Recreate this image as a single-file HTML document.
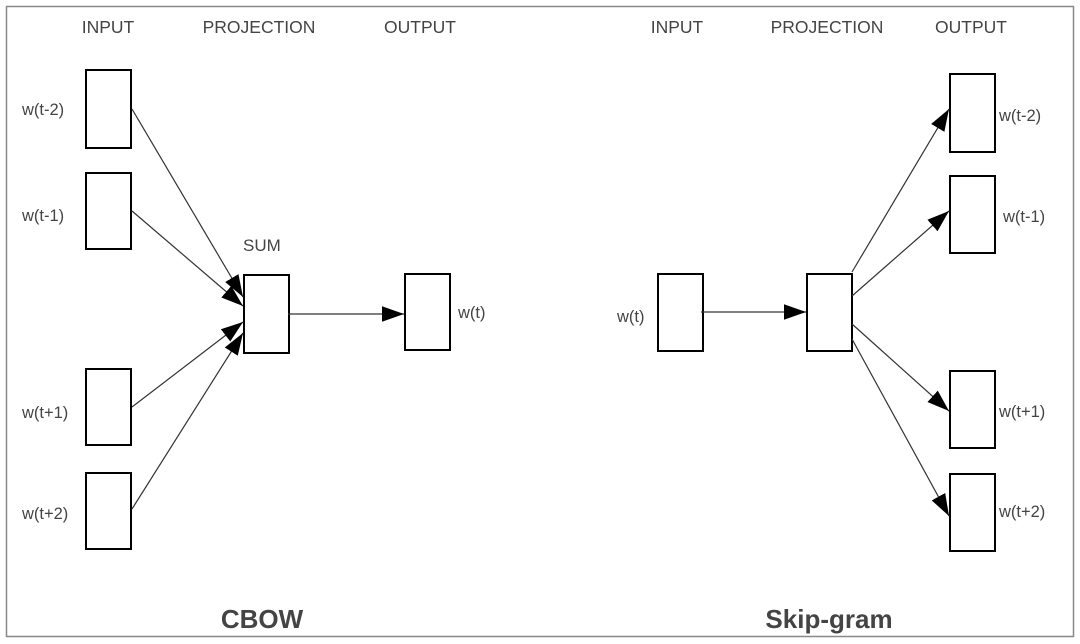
<!DOCTYPE html>
<html><head><meta charset="utf-8"><style>
html,body{margin:0;padding:0;background:#fff;}
svg{display:block;}
text{font-family:"Liberation Sans",Arial,sans-serif;fill:#444;}
</style></head><body>
<svg width="1080" height="644" viewBox="0 0 1080 644" xmlns="http://www.w3.org/2000/svg">
<defs>
<marker id="a" viewBox="0 0 10 10" refX="10" refY="5" markerWidth="22" markerHeight="22" markerUnits="userSpaceOnUse" orient="auto">
<path d="M0,1.5 L10,5 L0,8.5 z" fill="#000"/>
</marker>
</defs>
<rect x="6.5" y="6.5" width="1067" height="630" fill="#fff" stroke="#888" stroke-width="1.5"/>
<g font-size="17.5" text-anchor="middle">
<text x="108" y="33">INPUT</text>
<text x="259" y="33">PROJECTION</text>
<text x="420" y="33">OUTPUT</text>
<text x="677" y="33">INPUT</text>
<text x="827" y="33">PROJECTION</text>
<text x="971" y="33">OUTPUT</text>
</g>
<g fill="#fff" stroke="#000" stroke-width="2">
<rect x="86" y="70" width="45" height="78"/>
<rect x="86" y="173" width="45" height="76"/>
<rect x="86" y="369" width="45" height="76"/>
<rect x="86" y="473" width="45" height="76"/>
<rect x="244" y="275" width="45" height="78"/>
<rect x="405" y="274" width="45" height="76"/>
<rect x="658" y="274" width="45" height="77"/>
<rect x="807" y="274" width="45" height="77"/>
<rect x="950" y="74" width="45" height="78"/>
<rect x="950" y="176" width="45" height="77"/>
<rect x="950" y="371" width="45" height="77"/>
<rect x="950" y="474" width="45" height="77"/>
</g>
<g stroke="#333" stroke-width="1.2" marker-end="url(#a)">
<line x1="132" y1="109" x2="243" y2="297"/>
<line x1="132" y1="211" x2="243" y2="306"/>
<line x1="132" y1="407" x2="243" y2="322"/>
<line x1="132" y1="509" x2="243" y2="333"/>
<line x1="288" y1="314" x2="404" y2="314"/>
<line x1="701" y1="312" x2="806" y2="312"/>
<line x1="852" y1="272" x2="949" y2="109"/>
<line x1="852" y1="296" x2="949" y2="211"/>
<line x1="852" y1="324" x2="949" y2="411"/>
<line x1="852" y1="339" x2="949" y2="516"/>
</g>
<g font-size="16.5">
<text x="22" y="115">w(t-2)</text>
<text x="22" y="221">w(t-1)</text>
<text x="22" y="418">w(t+1)</text>
<text x="22" y="519">w(t+2)</text>
<text x="243" y="251" font-size="17">SUM</text>
<text x="458" y="318">w(t)</text>
<text x="617" y="322">w(t)</text>
<text x="999" y="121">w(t-2)</text>
<text x="1003" y="222">w(t-1)</text>
<text x="999" y="417">w(t+1)</text>
<text x="999" y="517">w(t+2)</text>
</g>
<g font-size="26" font-weight="bold" text-anchor="middle">
<text x="262" y="628">CBOW</text>
<text x="829" y="628">Skip-gram</text>
</g>
</svg>
</body></html>
